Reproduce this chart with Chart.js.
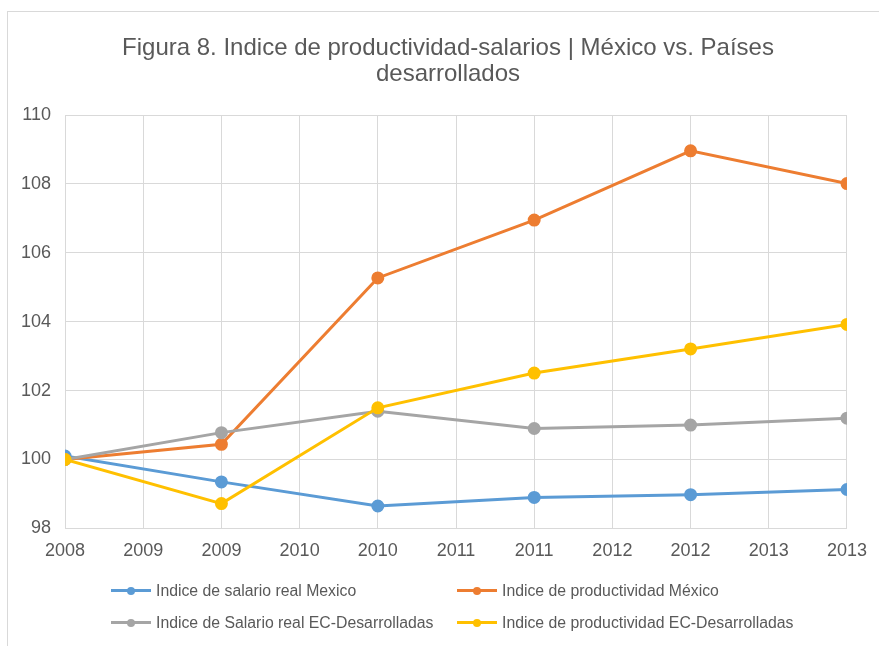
<!DOCTYPE html>
<html>
<head>
<meta charset="utf-8">
<script src="https://cdn.jsdelivr.net/npm/chart.js@4.4.1/dist/chart.umd.min.js"></script>
<style>
  html, body { margin: 0; padding: 0; background: #fff; }
  #wrap { position: relative; width: 879px; height: 646px; overflow: hidden; font-family: "Liberation Sans", Arial, sans-serif; }
  #frame { position: absolute; left: 7px; top: 11px; right: -10px; bottom: -10px; border-top: 1px solid #d9d9d9; border-left: 1px solid #d9d9d9; }
  #chart { position: absolute; left: 0; top: 0; }
  .chart-title { position: absolute; left: 17px; width: 862px; top: 34px; text-align: center; font-size: 24px; line-height: 26.4px; color: #595959; }
  #legend { position: absolute; left: 111px; top: 580px; display: grid; grid-template-columns: 346px 346px; row-gap: 11px; }
  .lg-item { display: flex; align-items: center; font-size: 15.8px; color: #595959; height: 21px; white-space: nowrap; }
  .lg-sym { position: relative; width: 40px; height: 3px; margin-right: 5px; }
  .lg-sym span { position: absolute; left: 16px; top: -2.5px; width: 8px; height: 8px; border-radius: 50%; }
</style>
</head>
<body>
<div id="wrap">
  <div id="frame"></div>
  <canvas id="chart" width="879" height="646"></canvas>
  <div class="chart-title">Figura 8. Indice de productividad-salarios | México vs. Países<br>desarrollados</div>
  <div id="legend"></div>
</div>
<script>
// ---- data ----
const years      = [2008, 2009, 2010, 2011, 2012, 2013];
const tickLabels = ['2008', '2009', '2009', '2010', '2010', '2011', '2011', '2012', '2012', '2013', '2013'];

const salarioMexico       = [100.1, 99.35, 98.65, 98.9, 98.98, 99.13];
const productividadMexico = [100.0, 100.44, 105.27, 106.95, 108.96, 108.01];
const salarioEC           = [100.0, 100.78, 101.4, 100.9, 101.0, 101.2];
const productividadEC     = [100.0, 98.72, 101.5, 102.51, 103.21, 103.92];

const seriesNames = [
  'Indice de salario real Mexico',
  'Indice de productividad México',
  'Indice de Salario real EC-Desarrolladas',
  'Indice de productividad EC-Desarrolladas'
];
const seriesColors = ['#5b9bd5', '#ed7d31', '#a5a5a5', '#ffc000'];

const FONT = '"Liberation Sans", Arial, sans-serif';
const TEXT = '#595959';
const GRID = '#d9d9d9';

function toPoints(values) {
  return values.map((v, i) => ({ x: years[i], y: v }));
}

const allSeries = [salarioMexico, productividadMexico, salarioEC, productividadEC];

// later series drawn on top, like Excel
const datasets = allSeries.map((vals, i) => ({
  label: seriesNames[i],
  data: toPoints(vals),
  borderColor: seriesColors[i],
  backgroundColor: seriesColors[i],
  pointBackgroundColor: seriesColors[i],
  pointBorderColor: seriesColors[i],
  borderWidth: 3,
  pointRadius: 5,
  tension: 0,
  order: 3 - i
}));

const chart = new Chart(document.getElementById('chart'), {
  type: 'line',
  data: { datasets },
  options: {
    responsive: false,
    animation: false,
    layout: { padding: { top: 115, left: 7, right: 19, bottom: 72 } },
    plugins: {
      legend: { display: false },
      tooltip: { enabled: false },
      title: { display: false }
    },
    scales: {
      x: {
        type: 'linear',
        min: 2008,
        max: 2013,
        ticks: {
          stepSize: 0.5,
          color: TEXT,
          font: { family: FONT, size: 18 },
          padding: 12,
          maxRotation: 0,
          autoSkip: false,
          callback: (v, i) => tickLabels[i]
        },
        grid: { color: GRID, drawTicks: false },
        border: { color: GRID }
      },
      y: {
        min: 98,
        max: 110,
        ticks: {
          stepSize: 2,
          color: TEXT,
          font: { family: FONT, size: 18 },
          padding: 14
        },
        grid: { color: GRID, drawTicks: false },
        border: { color: GRID }
      }
    }
  }
});

// HTML legend built from the datasets (two aligned columns)
const legendEl = document.getElementById('legend');
chart.data.datasets.forEach(ds => {
  const item = document.createElement('div');
  item.className = 'lg-item';
  item.innerHTML = `<div class="lg-sym" style="background:${ds.borderColor}"><span style="background:${ds.borderColor}"></span></div>${ds.label}`;
  legendEl.appendChild(item);
});
</script>
</body>
</html>
